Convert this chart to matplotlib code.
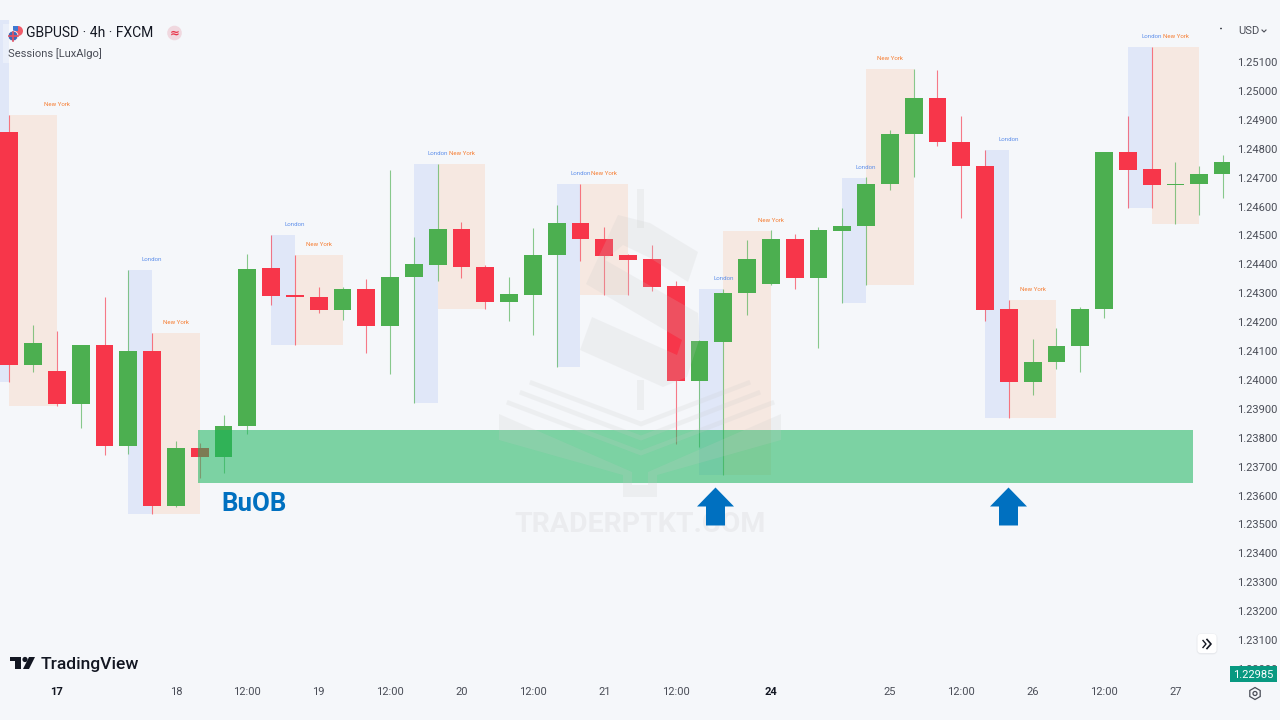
import matplotlib
matplotlib.use("Agg")
import matplotlib.pyplot as plt
from matplotlib.patches import Polygon, Circle, Rectangle, FancyBboxPatch, RegularPolygon
from matplotlib.path import Path
from matplotlib.transforms import Affine2D

plt.rcParams['font.family'] = ['Roboto', 'DejaVu Sans']

# GBPUSD 4h candles, one entry per bar
opens = [1.24858, 1.24052, 1.24031, 1.23917, 1.24121, 1.23771, 1.24100, 1.23564, 1.23765, 1.23733, 1.23841, 1.24387, 1.24294,
         1.24287, 1.24242, 1.24315, 1.24187, 1.24356, 1.24398, 1.24522, 1.24391, 1.24270, 1.24294, 1.24432, 1.24543, 1.24488,
         1.24432, 1.24418, 1.24325, 1.23996, 1.24131, 1.24301, 1.24332, 1.24488, 1.24353, 1.24515, 1.24533, 1.24678, 1.24851,
         1.24975, 1.24823, 1.24740, 1.24245, 1.23993, 1.24062, 1.24117, 1.24245, 1.24789, 1.24730, 1.24675, 1.24678, 1.24713]
highs = [1.24917, 1.24190, 1.24169, 1.24121, 1.24287, 1.24380, 1.24162, 1.23789, 1.23782, 1.23879, 1.24436, 1.24501, 1.24432,
         1.24321, 1.24321, 1.24349, 1.24726, 1.24495, 1.24747, 1.24546, 1.24398, 1.24356, 1.24526, 1.24605, 1.24678, 1.24529,
         1.24436, 1.24467, 1.24342, 1.24138, 1.24315, 1.24484, 1.24519, 1.24505, 1.24529, 1.24595, 1.24702, 1.24865, 1.25076,
         1.25072, 1.24913, 1.24795, 1.24276, 1.24142, 1.24180, 1.24253, 1.24789, 1.24913, 1.25152, 1.24754, 1.24740, 1.24778]
lows = [1.23993, 1.24027, 1.23910, 1.23834, 1.23740, 1.23744, 1.23536, 1.23560, 1.23661, 1.23678, 1.23813, 1.24259, 1.24121,
        1.24231, 1.24207, 1.24093, 1.24020, 1.23920, 1.24342, 1.24353, 1.24245, 1.24204, 1.24155, 1.24045, 1.24411, 1.24294,
        1.24294, 1.24308, 1.23778, 1.23768, 1.23671, 1.24225, 1.24328, 1.24315, 1.24110, 1.24266, 1.24328, 1.24657, 1.24702,
        1.24809, 1.24560, 1.24204, 1.23868, 1.23948, 1.24038, 1.24027, 1.24214, 1.24595, 1.24595, 1.24540, 1.24571, 1.24629]
closes = [1.24052, 1.24128, 1.23917, 1.24121, 1.23771, 1.24100, 1.23564, 1.23765, 1.23733, 1.23841, 1.24384, 1.24290, 1.24287,
          1.24242, 1.24315, 1.24187, 1.24356, 1.24401, 1.24522, 1.24391, 1.24270, 1.24297, 1.24432, 1.24543, 1.24488, 1.24429,
          1.24415, 1.24321, 1.23996, 1.24135, 1.24301, 1.24418, 1.24488, 1.24353, 1.24519, 1.24533, 1.24678, 1.24851, 1.24975,
          1.24823, 1.24740, 1.24242, 1.23993, 1.24062, 1.24117, 1.24245, 1.24789, 1.24726, 1.24675, 1.24678, 1.24713, 1.24754]

# session boxes: first bar, last bar, high, low, and the bar their label sits over
session_names = ["London", "New York", "London", "New York", "London", "New York", "London", "New York", "London",
                 "New York", "London", "New York", "London", "New York", "London", "New York", "London", "New York"]
session_start = [-1, 0, 5, 6, 11, 12, 17, 18, 23, 24, 29, 30, 35, 36, 41, 42, 47, 48]
session_end = [0, 2, 6, 8, 12, 14, 18, 20, 24, 26, 30, 32, 36, 38, 42, 44, 48, 50]
session_high = [1.25245, 1.24917, 1.24380, 1.24162, 1.24501, 1.24432, 1.24747, 1.24747, 1.24678, 1.24678,
                1.24315, 1.24515, 1.24699, 1.25076, 1.24795, 1.24276, 1.25152, 1.25152]
session_low = [1.23993, 1.23910, 1.23536, 1.23536, 1.24121, 1.24121, 1.23920, 1.24245, 1.24045, 1.24294,
               1.23671, 1.23671, 1.24266, 1.24328, 1.23868, 1.23868, 1.24595, 1.24540]
session_label_bar = [None, 2, 6, 7, 12, 13, 18, 19, 24, 25, 30, 32, 36, 37, 42, 43, 48, 49]

# order block zone and the two retest arrows
zone_start, zone_end = 7.93, 49.74
zone_high, zone_low = 1.23827, 1.23643
arrow_bars = [29.65, 41.96]
arrow_prices = [1.23564, 1.23564]

price_ticks = [1.23 + i * 0.001 for i in range(22)]
time_ticks = [2, 7, 10, 13, 16, 19, 22, 25, 28, 32, 37, 40, 43, 46, 49]
time_labels = ["17", "18", "12:00", "19", "12:00", "20", "12:00", "21", "12:00", "24", "25", "12:00", "26", "12:00", "27"]
last_price = "1.22985"

BG = "#F5F7FA"
UP = "#4CAF50"
DOWN = "#F7364A"
TXT = "#4A4D57"
DARK = "#131722"
MARK = "#C8C8C8"

fig = plt.figure(figsize=(12.8, 7.2), dpi=100, facecolor=BG)
ax = fig.add_axes([0, 38 / 720, 1230 / 1280, 682 / 720], facecolor=BG)
# screen pixels with the origin top left, for the furniture around the chart
px = Affine2D().scale(1, -1).translate(0, 720)

# session boxes under the candles
for name, a, b, hi, lo in zip(session_names, session_start, session_end, session_high, session_low):
    col = "#E0E7F8" if name == "London" else "#F6E8E1"
    ax.bar(a, hi - lo, bottom=lo, width=b - a, align="edge", color=col, linewidth=0, zorder=1)
for name, bar, hi in zip(session_names, session_label_bar, session_high):
    if bar is None:
        continue
    col = "#5E8FEA" if name == "London" else "#F57C30"
    ax.annotate(name, (bar, hi), xytext=(0, 7.6), textcoords="offset points", ha="center", va="center",
                fontsize=4.4, color=col, zorder=2)

# candles
bars = list(range(len(opens)))
colors = [UP if c >= o else DOWN for o, c in zip(opens, closes)]
ax.vlines(bars, lows, highs, colors=colors, linewidth=0.8, alpha=0.65, zorder=2)
ax.bar(bars, [abs(c - o) for o, c in zip(opens, closes)], bottom=[min(o, c) for o, c in zip(opens, closes)],
       width=0.756, color=colors, linewidth=0, zorder=2.2)

# order block zone on top of the candles
ax.bar(zone_start, zone_high - zone_low, bottom=zone_low, width=zone_end - zone_start, align="edge",
       color=(25 / 255, 181 / 255, 93 / 255), alpha=0.55, linewidth=0, zorder=3)

# watermark logo
s_curve = [(698, 252), (688, 282), (650, 258), (623, 245), (605, 260), (698, 313), (700, 337), (687, 377), (663, 387),
           (580, 350), (592, 317), (677, 355), (682, 340), (586, 284), (618, 215), (650, 223)]
book = [(499, 414), (632, 472), (632, 485), (648, 485), (648, 472), (781, 414), (781, 440), (657, 475), (657, 497),
        (623, 497), (623, 475), (499, 440)]
bar_top = [(637, 189), (644, 189), (644, 228), (637, 228)]
bar_bottom = [(637, 380), (644, 380), (644, 410), (637, 410)]
for pts in (s_curve, book, bar_top, bar_bottom):
    ax.add_patch(Polygon(pts, closed=True, transform=px, facecolor=MARK, edgecolor="none", alpha=0.18, zorder=4, clip_on=False))
for pts in ([(532, 383), (641, 424), (748, 383)], [(522, 393), (641, 438), (758, 393)], [(509, 403), (641, 453), (772, 403)]):
    ax.plot([p[0] for p in pts], [p[1] for p in pts], transform=px, color=MARK, alpha=0.18, linewidth=3.4,
            solid_joinstyle="miter", zorder=4, clip_on=False)
ax.text(640.5, 524, "TRADERPTKT.COM", transform=px, ha="center", va="center", fontsize=20.5, fontweight="bold",
        color=MARK, alpha=0.22, zorder=4)

# retest arrows
arrow = Path([(0, 19), (18.5, 0), (9.5, 0), (9.5, -19), (-9.5, -19), (-9.5, 0), (-18.5, 0), (0, 19)], closed=True)
ax.scatter(arrow_bars, arrow_prices, marker=arrow, s=748, color="#0070C0", linewidths=0, zorder=5)
ax.text(221, 504, "BuOB", transform=px, ha="left", va="center", fontsize=18.5, fontweight="bold", color="#0070C0", zorder=5)

# axes
ax.set_xlim(-0.3908, 51.29)
ax.set_ylim(1.22955, 1.253145)
for s in ax.spines.values():
    s.set_visible(False)
ax.yaxis.tick_right()
ax.set_yticks(price_ticks)
ax.set_yticklabels(["%.5f" % p for p in price_ticks])
ax.set_xticks(time_ticks)
ax.set_xticklabels(time_labels)
ax.tick_params(axis="y", length=0, pad=5.2, labelsize=8, labelcolor=TXT)
ax.tick_params(axis="x", length=0, pad=3.8, labelsize=8, labelcolor=TXT)
for lab in ax.get_xticklabels():
    if lab.get_text() in ("17", "24"):
        lab.set_fontweight("bold")
        lab.set_color(DARK)

# last price tag
ax.add_patch(Rectangle((1230, 666), 47, 16, transform=px, facecolor="#089981", edgecolor="none", zorder=10, clip_on=False))
ax.text(1253.5, 674.5, last_price, transform=px, ha="center", va="center", fontsize=8, color="white", zorder=11)

# header
ax.add_patch(Rectangle((3, 24), 7, 39, transform=px, facecolor="white", edgecolor="none", alpha=0.35, zorder=6, clip_on=False))
ax.text(26, 33, "GBPUSD · 4h · FXCM", transform=px, ha="left", va="center", fontsize=10, color=DARK, zorder=7)
ax.text(7.5, 53.5, "Sessions [LuxAlgo]", transform=px, ha="left", va="center", fontsize=8, color=TXT, zorder=7)
ax.add_patch(Circle((18, 31), 5, transform=px, facecolor="#F05C6A", edgecolor="none", zorder=7, clip_on=False))
ax.add_patch(Rectangle((13, 26), 5, 5, transform=px, facecolor="#3F78D0", edgecolor="none", zorder=7, clip_on=False))
ax.add_patch(Circle((13, 36), 5, transform=px, facecolor="#3F68B8", edgecolor=BG, linewidth=0.6, zorder=8, clip_on=False))
ax.plot([8.5, 17.5], [36, 36], transform=px, color="#E8505F", linewidth=1.2, zorder=8)
ax.plot([13, 13], [31.5, 40.5], transform=px, color="#E8505F", linewidth=1.2, zorder=8)
ax.add_patch(Circle((174.5, 33), 7.3, transform=px, facecolor="#F0D8DF", edgecolor="none", zorder=7, clip_on=False))
ax.text(174.5, 33, "≈", transform=px, ha="center", va="center", fontsize=8.5, fontweight="bold",
        family="DejaVu Sans", color="#E8354A", zorder=8)

# TradingView mark and name
ax.add_patch(Polygon([(10, 657), (21, 657), (21, 669), (15, 669), (15, 661), (10, 661)], transform=px, facecolor=DARK, edgecolor="none", zorder=7, clip_on=False))
ax.add_patch(Circle((25, 659.5), 2.6, transform=px, facecolor=DARK, edgecolor="none", zorder=7, clip_on=False))
ax.add_patch(Polygon([(29, 657), (35, 657), (29, 669), (23, 669)], transform=px, facecolor=DARK, edgecolor="none", zorder=7, clip_on=False))
ax.text(41, 664, "TradingView", transform=px, ha="left", va="center", fontsize=12.6, fontweight="medium", color=DARK, zorder=7)

# price scale controls
ax.text(1238, 31, "USD", transform=px, ha="left", va="center", fontsize=8, color=TXT, zorder=7)
ax.plot([1262, 1264, 1266], [30, 32, 30], transform=px, color=TXT, linewidth=0.8, zorder=7, clip_on=False)
ax.add_patch(Circle((1221, 28.5), 0.8, transform=px, facecolor=DARK, edgecolor="none", zorder=7, clip_on=False))
ax.add_patch(RegularPolygon((1255, 693.5), 6, radius=6, transform=px, facecolor="none", edgecolor=TXT, linewidth=0.9, zorder=7, clip_on=False))
ax.add_patch(Circle((1255, 693.5), 2, transform=px, facecolor="none", edgecolor=TXT, linewidth=0.9, zorder=7, clip_on=False))

# scroll to latest button
ax.add_patch(FancyBboxPatch((1198, 635), 18, 18, boxstyle="round,pad=0,rounding_size=3", transform=px, facecolor="#E4E6EA",
                            edgecolor="#E4E6EA", linewidth=2, alpha=0.8, zorder=7, clip_on=False))
ax.add_patch(FancyBboxPatch((1197.5, 634), 19, 19, boxstyle="round,pad=0,rounding_size=3", transform=px, facecolor="white",
                            edgecolor="none", zorder=8, clip_on=False))
ax.plot([1203, 1206, 1203], [640.5, 644, 647.5], transform=px, color=DARK, linewidth=1, zorder=9)
ax.plot([1207, 1211, 1207], [639.5, 644, 648.5], transform=px, color=DARK, linewidth=1.2, zorder=9)

fig.savefig("out.png", dpi=100, facecolor=BG)
plt.close(fig)
